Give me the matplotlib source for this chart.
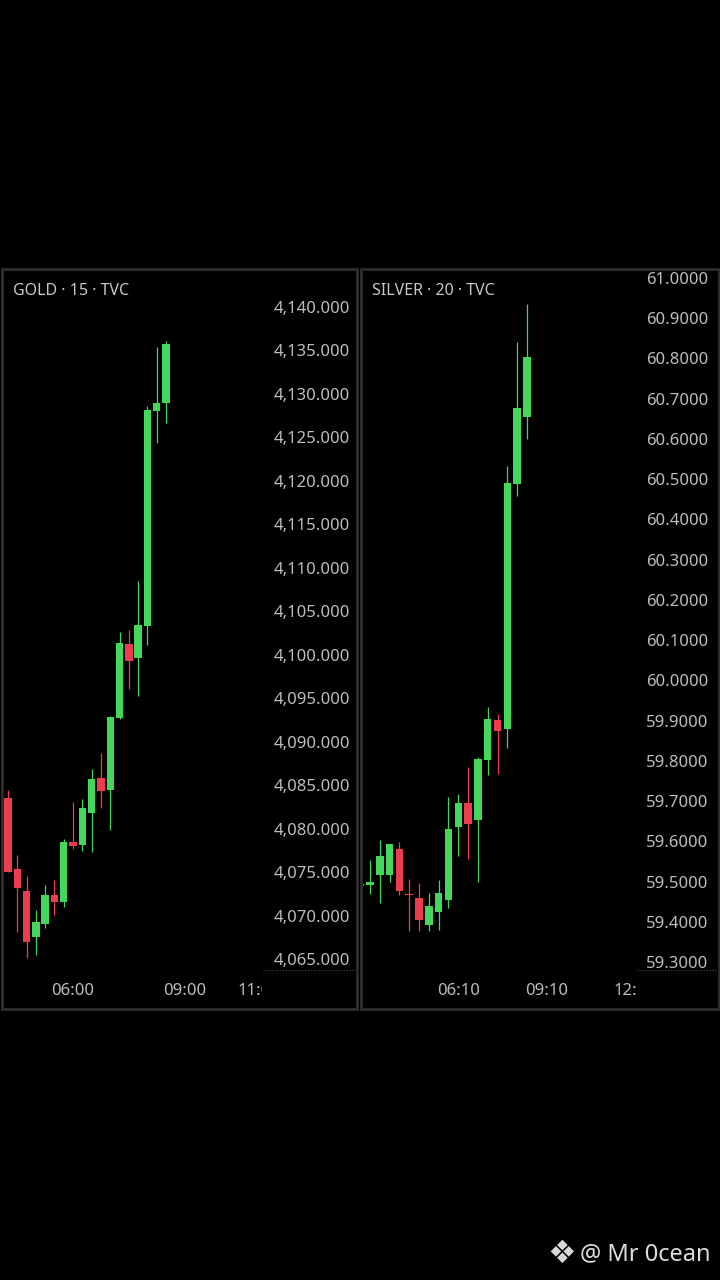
import matplotlib
matplotlib.use('Agg')
import matplotlib.pyplot as plt
from matplotlib.patches import Rectangle
from matplotlib.lines import Line2D

plt.rcParams['font.family'] = ['Noto Sans', 'DejaVu Sans']

# GOLD, 15 min candles
gold_open = [4083.5, 4075.4, 4072.8, 4067.5, 4069.0, 4072.4, 4071.5, 4078.5, 4078.1,
             4081.8, 4085.8, 4084.4, 4092.75, 4101.2, 4099.6, 4103.3, 4128.0, 4129.0]
gold_high = [4084.4, 4077.0, 4074.5, 4070.6, 4073.5, 4074.1, 4078.8, 4083.1, 4083.4,
             4086.9, 4088.7, 4092.9, 4102.6, 4102.8, 4108.5, 4128.6, 4135.4, 4136.1]
gold_low = [4075.0, 4068.1, 4065.1, 4065.5, 4068.6, 4070.1, 4071.0, 4077.7, 4077.4,
            4077.3, 4082.4, 4079.8, 4092.6, 4096.1, 4095.2, 4101.1, 4124.3, 4126.6]
gold_close = [4075.0, 4073.2, 4066.9, 4069.2, 4072.4, 4071.6, 4078.5, 4078.0, 4082.4,
              4085.7, 4084.3, 4092.8, 4101.3, 4099.3, 4103.4, 4128.15, 4128.9, 4135.7]
gold_price_ticks = [4140, 4135, 4130, 4125, 4120, 4115, 4110, 4105, 4100,
                    4095, 4090, 4085, 4080, 4075, 4070, 4065]
gold_time_pos = [7, 19, 27]
gold_time_labels = ['06:00', '09:00', '11:00']

# SILVER, 20 min candles
silver_open = [59.493, 59.492, 59.516, 59.516, 59.581, 59.470, 59.4585, 59.392, 59.425,
               59.454, 59.635, 59.695, 59.653, 59.802, 59.902, 59.879, 60.488, 60.655]
silver_high = [59.497, 59.554, 59.603, 59.593, 59.598, 59.507, 59.496, 59.471, 59.504,
               59.710, 59.718, 59.784, 59.810, 59.933, 59.917, 60.533, 60.840, 60.935]
silver_low = [59.485, 59.469, 59.446, 59.500, 59.467, 59.378, 59.376, 59.376, 59.380,
              59.435, 59.564, 59.555, 59.500, 59.765, 59.767, 59.831, 60.459, 60.599]
silver_close = [59.489, 59.498, 59.564, 59.593, 59.477, 59.467, 59.405, 59.439, 59.471,
                59.631, 59.695, 59.643, 59.805, 59.905, 59.874, 60.491, 60.676, 60.804]
silver_price_ticks = [61.0, 60.9, 60.8, 60.7, 60.6, 60.5, 60.4, 60.3, 60.2,
                      60.1, 60.0, 59.9, 59.8, 59.7, 59.6, 59.5, 59.4, 59.3]
silver_time_pos = [10, 19, 28]
silver_time_labels = ['06:10', '09:10', '12:10']

UP = '#45d65c'
DOWN = '#eb3d4d'
TXT = '#bdbdbd'
W, H = 720, 1280

fig = plt.figure(figsize=(7.2, 12.8), dpi=100, facecolor='black')


def px_axes(x0, y0, x1, y1):
    ax = fig.add_axes([x0 / W, 1 - y1 / H, (x1 - x0) / W, (y1 - y0) / H])
    ax.set_facecolor('black')
    for s in ax.spines.values():
        s.set_visible(False)
    return ax


def candles(ax, o, h, l, c, width, mindiff):
    for i in range(len(o)):
        col = UP if c[i] >= o[i] else DOWN
        ax.vlines(i, l[i], h[i], color=col, lw=0.9, zorder=2)
        bot = min(o[i], c[i])
        hgt = max(abs(c[i] - o[i]), mindiff)
        ax.bar(i, hgt, bottom=bot, width=width, color=col, zorder=3, linewidth=0)


def panel(x0, x1, plot_right, label_right, title, o, h, l, c, ticks, fmt,
          xlim, ylim, tpos, tlabels, width, mindiff):
    ax = px_axes(x0 + 2, 271, plot_right, 970)
    candles(ax, o, h, l, c, width, mindiff)
    ax.set_xlim(*xlim)
    ax.set_ylim(*ylim)
    ax.set_xticks([])
    ax.yaxis.tick_right()
    ax.set_yticks(ticks)
    ax.set_yticklabels([fmt(t) for t in ticks])
    ax.tick_params(axis='y', length=0, pad=(label_right - plot_right) * 0.72,
                   labelsize=12, labelcolor=TXT)
    for lbl in ax.get_yticklabels():
        lbl.set_ha('right')

    tax = px_axes(x0 + 2, 971, plot_right, 1007)
    tax.set_xlim(*xlim)
    tax.set_ylim(0, 1)
    tax.set_xticks([])
    tax.set_yticks([])
    for p, t in zip(tpos, tlabels):
        tax.text(p, 0.45, t, ha='center', va='center', fontsize=12, color=TXT,
                 clip_on=True)

    fig.text((x0 + 11) / W, 1 - 291 / H, title, ha='left', va='center',
             fontsize=11.5, color='#c8c8c8')
    fig.add_artist(Line2D([(plot_right + 1) / W, (x1 - 2) / W], [1 - 970 / H, 1 - 970 / H],
                          transform=fig.transFigure, color='#4a4a4a', lw=0.8,
                          linestyle=(0, (1, 1.5))))
    fig.add_artist(Rectangle((x0 / W, 1 - 1009 / H), (x1 - x0) / W, 740 / H,
                             transform=fig.transFigure, fill=False,
                             edgecolor='#2e2e2e', lw=2.0, zorder=10))
    return ax


g_sp = 9.294
panel(2, 357, 262, 350, 'GOLD · 15 · TVC', gold_open, gold_high, gold_low, gold_close,
      gold_price_ticks, lambda v: f'{v:,.3f}',
      ((4 - 8) / g_sp, (262 - 8) / g_sp),
      (4140 - (970 - 307) / 8.693, 4140 + (307 - 271) / 8.693),
      gold_time_pos, gold_time_labels, 0.8, 0.12)

s_sp = 9.77
panel(361, 719, 636, 708, 'SILVER · 20 · TVC', silver_open, silver_high, silver_low,
      silver_close, silver_price_ticks, lambda v: f'{v:.4f}',
      ((364 - 361.23) / s_sp, (636 - 361.23) / s_sp),
      (61.0 - (970 - 278) / 402.4, 61.0 + (278 - 271) / 402.4),
      silver_time_pos, silver_time_labels, 0.77, 0.003)

# watermark
fig.text(562 / W, 1 - 1254 / H, '❖', ha='center', va='center', fontsize=23,
         color='#d8d8d8', family='DejaVu Sans')
fig.text(580 / W, 1 - 1254 / H, '@ Mr 0cean', ha='left', va='center', fontsize=17,
         color='#dcdcdc')

fig.savefig('out.png', dpi=100, facecolor='black')
